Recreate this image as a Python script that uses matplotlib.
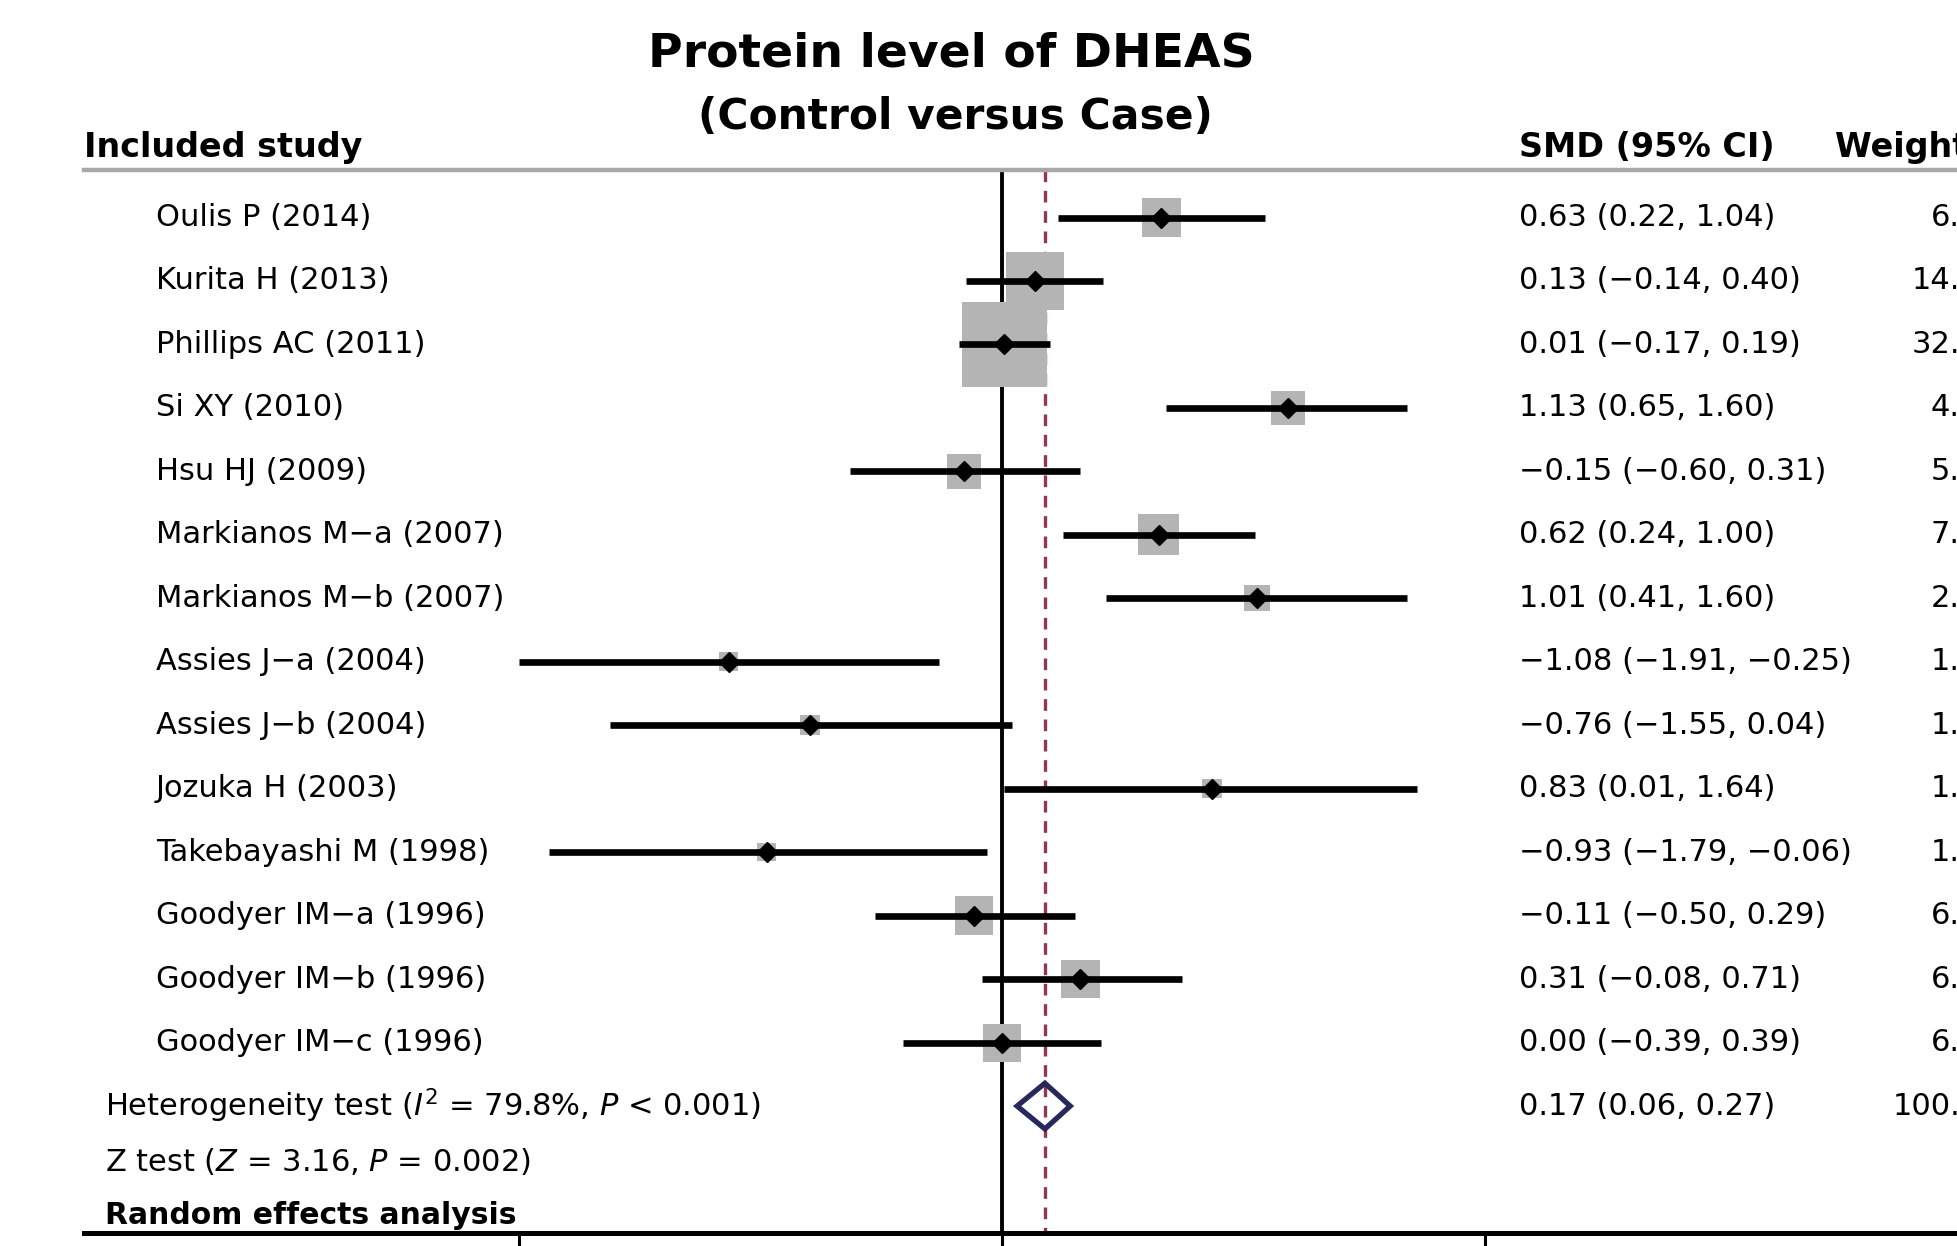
import matplotlib
matplotlib.use("Agg")
import matplotlib.pyplot as plt
import numpy as np

# ---------- data ----------
studies = ["Oulis P (2014)", "Kurita H (2013)", "Phillips AC (2011)", "Si XY (2010)",
           "Hsu HJ (2009)", "Markianos M\u2212a (2007)", "Markianos M\u2212b (2007)",
           "Assies J\u2212a (2004)", "Assies J\u2212b (2004)", "Jozuka H (2003)",
           "Takebayashi M (1998)", "Goodyer IM\u2212a (1996)", "Goodyer IM\u2212b (1996)",
           "Goodyer IM\u2212c (1996)"]
smd = [0.63, 0.13, 0.01, 1.13, -0.15, 0.62, 1.01, -1.08, -0.76, 0.83, -0.93, -0.11, 0.31, 0.00]
lower = [0.22, -0.14, -0.17, 0.65, -0.60, 0.24, 0.41, -1.91, -1.55, 0.01, -1.79, -0.50, -0.08, -0.39]
upper = [1.04, 0.40, 0.19, 1.60, 0.31, 1.00, 1.60, -0.25, 0.04, 1.64, -0.06, 0.29, 0.71, 0.39]
weights = [6.71, 14.60, 32.20, 4.95, 5.27, 7.42, 2.95, 1.57, 1.75, 1.63, 1.48, 6.48, 6.59, 6.40]

pooled = 0.17
pooled_lo = 0.06
pooled_hi = 0.27
xticks = [-1.91, 0, 1.91]

title1 = "Protein level of DHEAS"
title2 = "(Control versus Case)"
het_text = r"Heterogeneity test ($I^2$ = 79.8%, $P$ < 0.001)"
z_text = r"Z test ($Z$ = 3.16, $P$ = 0.002)"


def fmt(v):
    return f"{v:.2f}".replace("-", "\u2212")


fig = plt.figure(figsize=(19.58, 12.46), dpi=100)
ax = fig.add_axes([84 / 1958, 13 / 1246, 1 - 84 / 1958, 1 - 13 / 1246])
ax.set_xlim(-3.628, 3.779)
ax.set_ylim(16.0, -3.427)

rows = np.arange(len(studies))
pooled_row = len(studies)
top = -0.75
bottom = 16.0

# reference lines
ax.plot([0, 0], [top, bottom], color="black", lw=2.8, zorder=1, solid_capstyle="butt")
ax.plot([pooled, pooled], [top, bottom], color="#933650", lw=2.4, dashes=(3.5, 2.6), zorder=1)
ax.plot([-3.628, 3.779], [top, top], color="#a8a8a8", lw=3.2, zorder=1, clip_on=False)

# study squares, CIs and point estimates
ax.scatter(smd, rows, s=118 * np.array(weights), marker="s", color="#b4b4b4",
           linewidths=0, zorder=2)
ax.hlines(rows, lower, upper, color="black", lw=4.8, zorder=3)
ax.plot(smd, rows, "D", color="black", ms=10, zorder=4)

# pooled diamond
h = 0.36
ax.fill([pooled_lo, pooled, pooled_hi, pooled, pooled_lo],
        [pooled_row, pooled_row - h, pooled_row, pooled_row + h, pooled_row],
        facecolor="none", edgecolor="#28285a", lw=3.8, zorder=4)

# text columns
body = 22
wx = 3.94  # weight column (right aligned, runs off the right edge as in the source)
for i, name in enumerate(studies):
    ax.text(-3.344, i, name, fontsize=body, va="center", ha="left")
    ax.text(2.044, i, f"{fmt(smd[i])} ({fmt(lower[i])}, {fmt(upper[i])})",
            fontsize=body, va="center", ha="left")
    ax.text(wx, i, f"{weights[i]:.2f}", fontsize=body, va="center", ha="right")

ax.text(-3.545, pooled_row, het_text, fontsize=body, va="center", ha="left")
ax.text(2.044, pooled_row, f"{fmt(pooled)} ({fmt(pooled_lo)}, {fmt(pooled_hi)})",
        fontsize=body, va="center", ha="left")
ax.text(wx, pooled_row, f"{sum(weights):.2f}", fontsize=body, va="center", ha="right")
ax.text(-3.545, 14.88, z_text, fontsize=body, va="center", ha="left")
ax.text(-3.545, 15.72, "Random effects analysis", fontsize=21.5, fontweight="bold",
        va="center", ha="left")

ax.text(-3.628, -1.10, "Included study", fontsize=24, fontweight="bold", va="center", ha="left")
ax.text(2.044, -1.10, "SMD (95% CI)", fontsize=24, fontweight="bold", va="center", ha="left")
ax.text(3.292, -1.10, "Weight", fontsize=24, fontweight="bold", va="center", ha="left")
ax.text(-0.198, -2.58, title1, fontsize=34, fontweight="bold", va="center", ha="center")
ax.text(-0.185, -1.58, title2, fontsize=30.5, fontweight="bold", va="center", ha="center")

# axis styling
for side in ["top", "left", "right"]:
    ax.spines[side].set_visible(False)
ax.spines["bottom"].set_linewidth(3.6)
ax.set_xticks(xticks)
ax.tick_params(axis="x", direction="out", length=12, width=2.2, labelbottom=False)
ax.set_yticks([])

fig.savefig("out.png", dpi=100)
